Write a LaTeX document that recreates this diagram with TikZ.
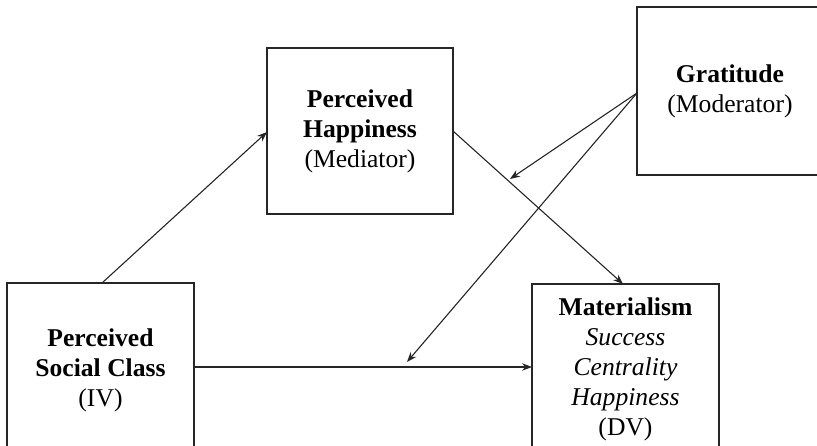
\documentclass[tikz,border=0pt]{standalone}
\usepackage{fontspec}
\setmainfont{Liberation Serif}
\usetikzlibrary{arrows.meta}
\begin{document}
\begin{tikzpicture}[x=1pt,y=-1pt,
  box/.style={draw=black!85,line width=1.3pt,rectangle,align=center,inner sep=0pt,
    font=\fontsize{25.6}{30}\selectfont},
  conn/.style={draw=black!85,line width=1.1pt,-{Stealth[length=10pt,width=7.5pt]}}]
\useasboundingbox (0,0) rectangle (817,446);
\fill[white] (0,0) rectangle (817,446);
\node[box,minimum width=187pt,minimum height=174pt] (iv) at (100.5,370)
  {\textbf{Perceived}\\\textbf{Social Class}\\(IV)};
\node[box,minimum width=187pt,minimum height=170pt] (dv) at (625.5,369)
  {\textbf{Materialism}\\\textit{Success}\\\textit{Centrality}\\\textit{Happiness}\\(DV)};
\node[box,minimum width=186pt,minimum height=166pt] (med) at (360,131)
  {\textbf{Perceived}\\\textbf{Happiness}\\(Mediator)};
\node[box,minimum width=186pt,minimum height=168pt] (mod) at (730,91)
  {\textbf{Gratitude}\\(Moderator)};
\coordinate (ivtop) at (102,283);
\coordinate (medleft) at (267,132);
\coordinate (medright) at (453,131);
\coordinate (dvtop) at (623,284);
\coordinate (ivright) at (194,367);
\coordinate (dvleft) at (532,367);
\coordinate (modsrc) at (637,93);
\coordinate (t1) at (510,179);
\coordinate (t2) at (407,362);
\draw[conn] (ivtop) -- (medleft);
\draw[conn] (medright) -- (dvtop);
\draw[conn] (ivright) -- (dvleft);
\draw[conn] (modsrc) -- (t1);
\draw[conn] (modsrc) -- (t2);
\end{tikzpicture}
\end{document}
